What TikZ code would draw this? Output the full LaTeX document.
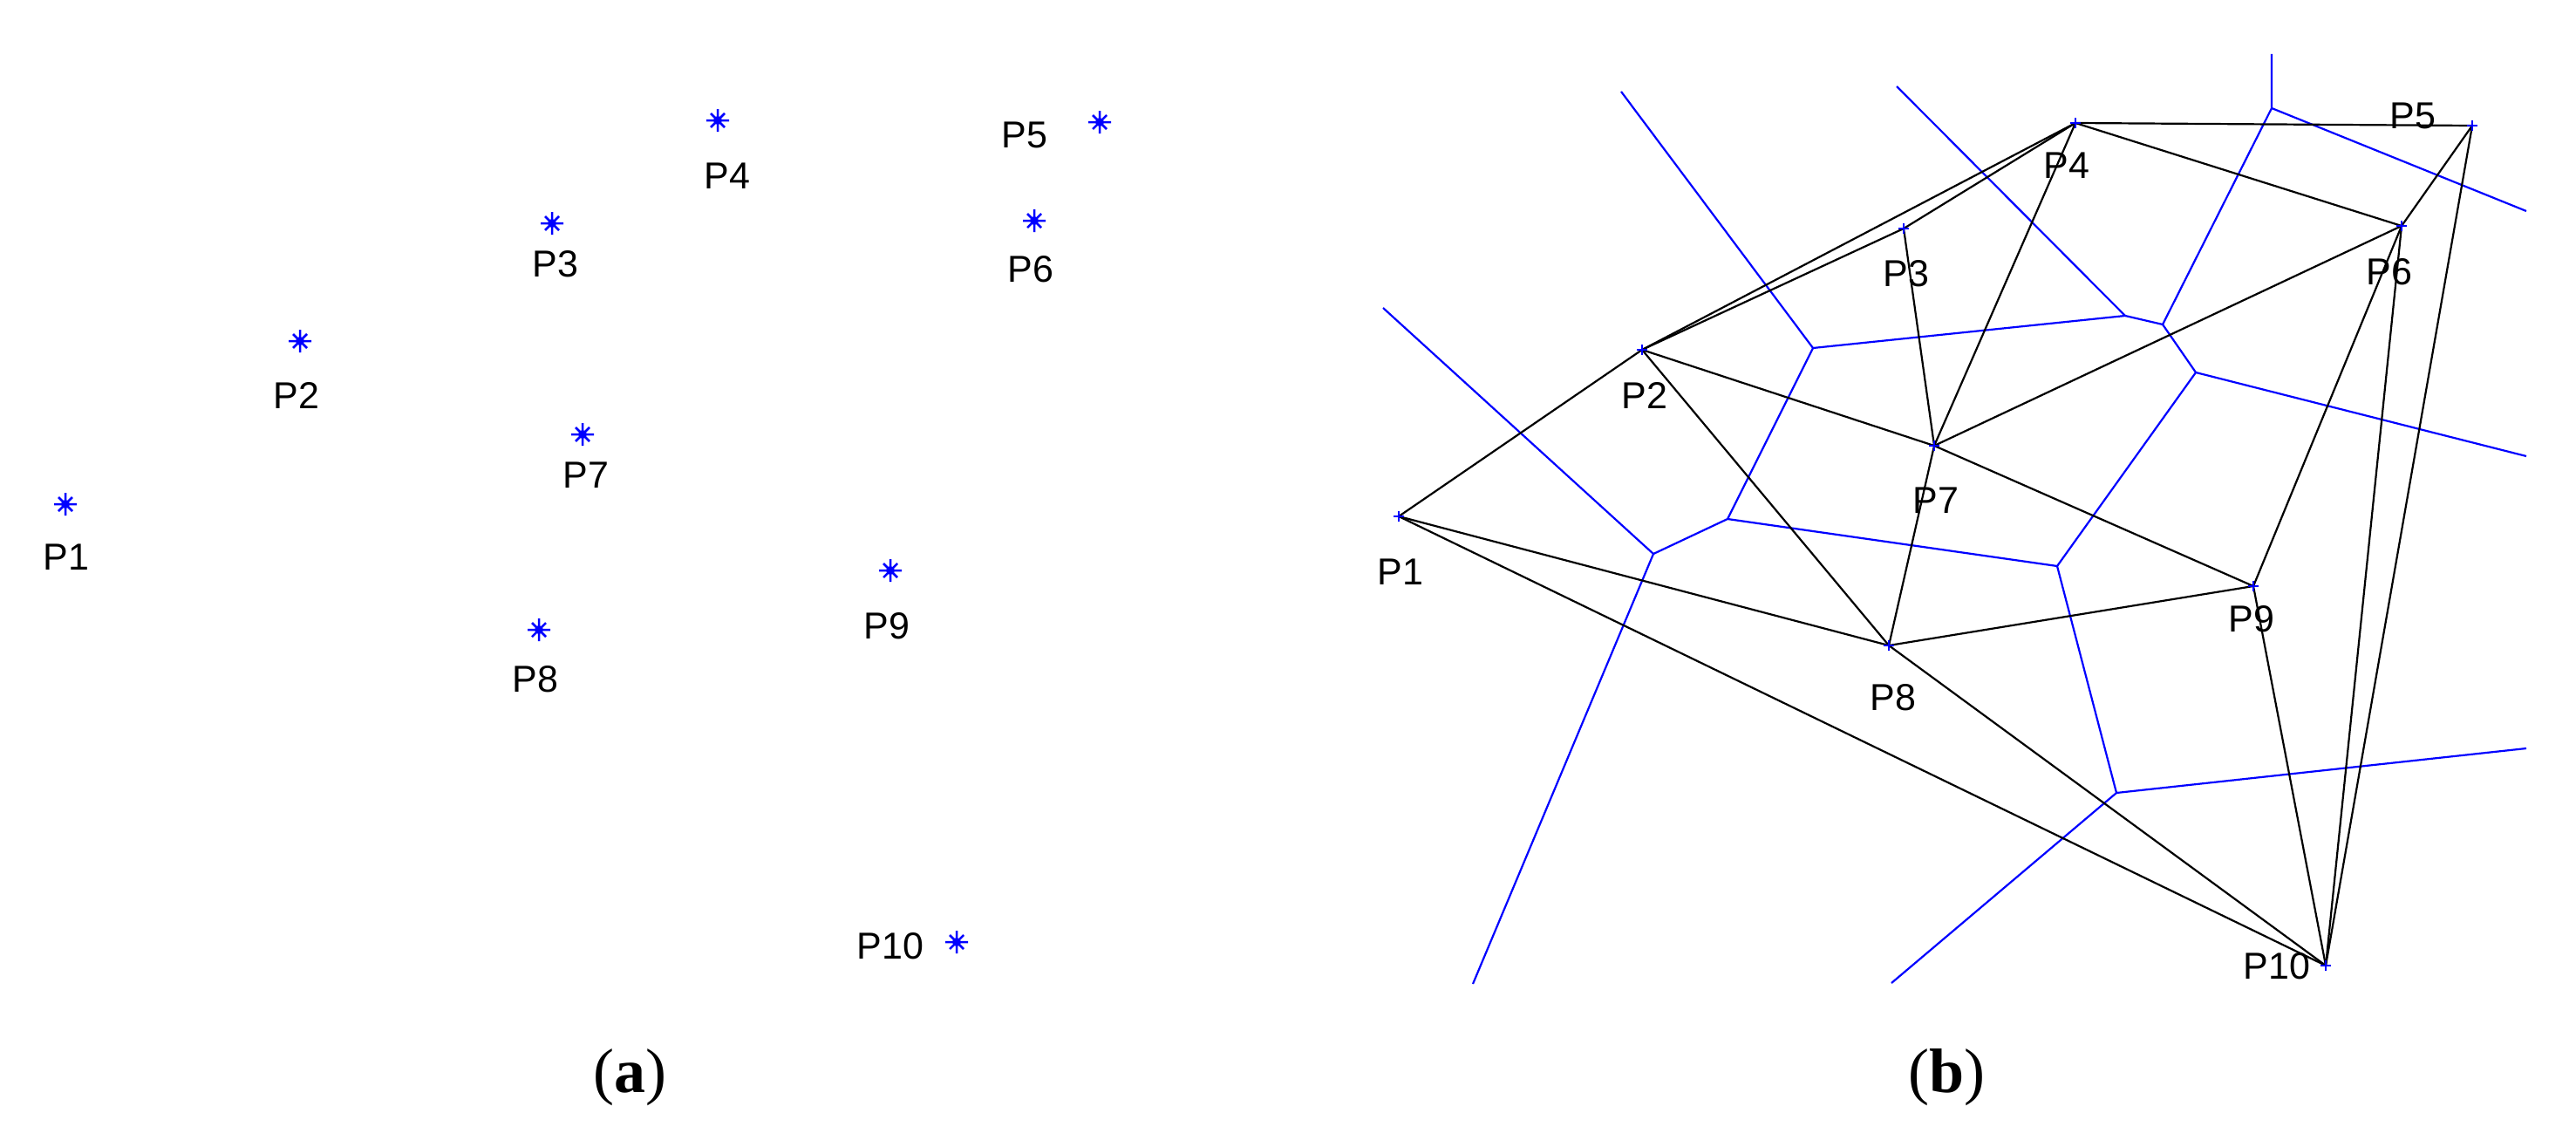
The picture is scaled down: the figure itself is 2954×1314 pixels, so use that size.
\documentclass[tikz,border=0pt]{standalone}
\usepackage{fontspec}
\setmainfont{Liberation Serif}
\newfontfamily\lblfont{Liberation Sans}
\begin{document}
\begin{tikzpicture}[x=1pt,y=-1pt,
  vor/.style={draw=blue, line width=2.2pt},
  del/.style={draw=black, line width=2.2pt},
  lbl/.style={font=\lblfont\fontsize{43}{48}\selectfont, inner sep=0pt},
  capt/.style={font=\fontsize{72}{80}\selectfont, inner sep=0pt},
  starmark/.pic={
    \draw[blue, line width=2.5pt] (-13,0)--(13,0) (0,-13)--(0,13) (-8,-8)--(8,8) (-8,8)--(8,-8);
    \fill[blue] (0,0) circle (5);
  },
  dotmark/.pic={
    \draw[blue, line width=2.5pt] (-6,0)--(6,0) (0,-6)--(0,6);
  }]
\useasboundingbox (0,0) rectangle (2954,1314);

% ---------- (a) ----------
\coordinate (a1) at (75,578);
\coordinate (a2) at (344,391);
\coordinate (a3) at (633,256);
\coordinate (a4) at (823,138);
\coordinate (a5) at (1261,140);
\coordinate (a6) at (1186,253);
\coordinate (a7) at (668,498);
\coordinate (a8) at (618,722);
\coordinate (a9) at (1021,654);
\coordinate (a10) at (1097,1080);
\foreach \i in {1,...,10} { \pic at (a\i) {starmark}; }
\node[lbl] (la1) at (76,639) {P1};
\node[lbl] (la2) at (340,453) {P2};
\node[lbl] (la3) at (637,303) {P3};
\node[lbl] (la4) at (834,202) {P4};
\node[lbl] (la5) at (1175,155) {P5};
\node[lbl] (la6) at (1182,309) {P6};
\node[lbl] (la7) at (672,545) {P7};
\node[lbl] (la8) at (614,779) {P8};
\node[lbl] (la9) at (1017,718) {P9};
\node[lbl] (la10) at (1021,1085) {P10};
\node[capt] (capa) at (722,1235) {(\textbf{a})};

% ---------- (b) ----------
\coordinate (b1) at (1604,592);
\coordinate (b2) at (1883,401);
\coordinate (b3) at (2183,262);
\coordinate (b4) at (2380,141);
\coordinate (b5) at (2835,144);
\coordinate (b6) at (2754,259);
\coordinate (b7) at (2218,511);
\coordinate (b8) at (2166,740);
\coordinate (b9) at (2584,672);
\coordinate (b10) at (2667,1107);

% Voronoi vertices and ends
\coordinate (va) at (1896,635);
\coordinate (vb) at (2079,399);
\coordinate (vc) at (1981,595);
\coordinate (vd) at (2359,649);
\coordinate (ve) at (2518,427);
\coordinate (vf) at (2427,909);
\coordinate (vg) at (2437,362);
\coordinate (vh) at (2480,372);
\coordinate (vi) at (2605,124);
\coordinate (e1) at (1586,353);
\coordinate (e2) at (1689,1128);
\coordinate (e3) at (1859,105);
\coordinate (e4) at (2175,99);
\coordinate (e5) at (2605,62);
\coordinate (e6) at (2897,242);
\coordinate (e7) at (2897,523);
\coordinate (e8) at (2897,858);
\coordinate (e9) at (2169,1127);

\draw[vor] (e1) -- (va) -- (e2);
\draw[vor] (va) -- (vc) -- (vb) -- (e3);
\draw[vor] (vb) -- (vg) -- (e4);
\draw[vor] (vg) -- (vh) -- (vi) -- (e5);
\draw[vor] (vi) -- (e6);
\draw[vor] (vh) -- (ve) -- (e7);
\draw[vor] (ve) -- (vd) -- (vc);
\draw[vor] (vd) -- (vf) -- (e8);
\draw[vor] (vf) -- (e9);

% Delaunay edges
\draw[del] (b1) -- (b2);
\draw[del] (b1) -- (b8);
\draw[del] (b1) -- (b10);
\draw[del] (b2) -- (b3);
\draw[del] (b2) -- (b4);
\draw[del] (b2) -- (b7);
\draw[del] (b2) -- (b8);
\draw[del] (b3) -- (b4);
\draw[del] (b3) -- (b7);
\draw[del] (b4) -- (b5);
\draw[del] (b4) -- (b6);
\draw[del] (b4) -- (b7);
\draw[del] (b5) -- (b6);
\draw[del] (b5) -- (b10);
\draw[del] (b6) -- (b7);
\draw[del] (b6) -- (b9);
\draw[del] (b6) -- (b10);
\draw[del] (b7) -- (b8);
\draw[del] (b7) -- (b9);
\draw[del] (b8) -- (b9);
\draw[del] (b8) -- (b10);
\draw[del] (b9) -- (b10);

\foreach \i in {1,...,10} { \pic at (b\i) {dotmark}; }

\node[lbl] (lb1) at (1606,656) {P1};
\node[lbl] (lb2) at (1886,453) {P2};
\node[lbl] (lb3) at (2186,314) {P3};
\node[lbl] (lb4) at (2370,190) {P4};
\node[lbl] (lb5) at (2767,133) {P5};
\node[lbl] (lb6) at (2740,312) {P6};
\node[lbl] (lb7) at (2220,574) {P7};
\node[lbl] (lb8) at (2171,800) {P8};
\node[lbl] (lb9) at (2582,710) {P9};
\node[lbl] (lb10) at (2611,1108) {P10};
\node[capt] (capb) at (2232,1235) {(\textbf{b})};
\end{tikzpicture}
\end{document}
